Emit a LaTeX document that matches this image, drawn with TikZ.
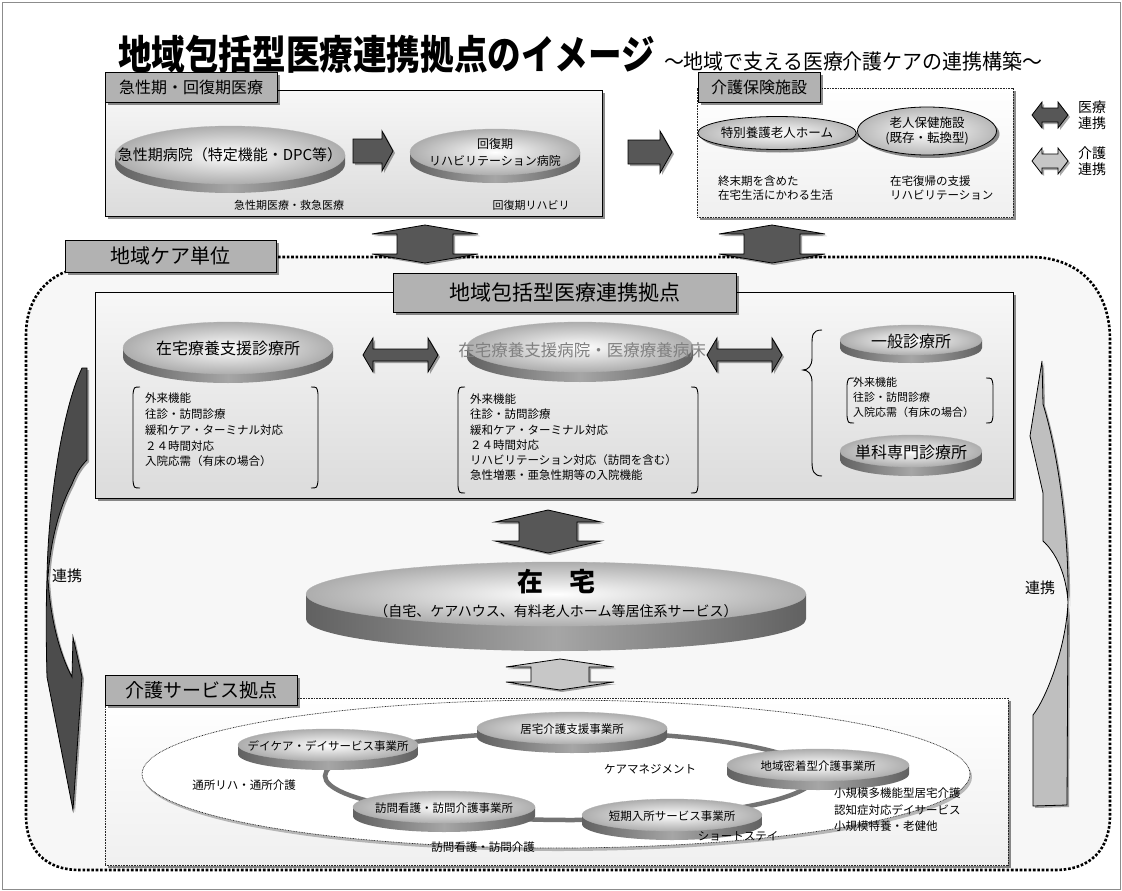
\documentclass[tikz,border=0pt]{standalone}
\usepackage{fontspec}
\usepackage{graphicx}
\setmainfont{Noto Sans CJK JP}
\usetikzlibrary{shadows,shapes.geometric}

\newcommand\fsz[2]{\fontsize{#1}{#2}\selectfont}
\newcommand\xs[2]{\scalebox{#1}[1]{#2}}
% disc: cx, cy, rx, ry, thickness
\newcommand\mydisc[5]{%
  \shade[left color=black!62,right color=black!62,middle color=black!35]
    (#1-#3,#2) -- (#1-#3,#2+#5) arc[start angle=180,end angle=0,x radius=#3,y radius=#4] -- (#1+#3,#2) -- cycle;
  \shadedraw[draw=black!30,line width=0.3pt,inner color=white,outer color=black!32]
    (#1,#2) ellipse[x radius=#3,y radius=#4];}
% horizontal double arrow: style, x1, x2, cy, shaft half, head half, head length
\newcommand\hdarr[7]{%
  \path[#1] (#2,#4) -- (#2+#7,#4-#6) -- (#2+#7,#4-#5) -- (#3-#7,#4-#5) -- (#3-#7,#4-#6) -- (#3,#4)
    -- (#3-#7,#4+#6) -- (#3-#7,#4+#5) -- (#2+#7,#4+#5) -- (#2+#7,#4+#6) -- cycle;}
% vertical double arrow: style, cx, y1, y2, shaft half, head half, head length
\newcommand\vdarr[7]{%
  \path[#1] (#2,#3) -- (#2+#6,#3+#7) -- (#2+#5,#3+#7) -- (#2+#5,#4-#7) -- (#2+#6,#4-#7) -- (#2,#4)
    -- (#2-#6,#4-#7) -- (#2-#5,#4-#7) -- (#2-#5,#3+#7) -- (#2-#6,#3+#7) -- cycle;}
% right arrow: style, xtail, xtip, cy, shaft half, head half, head length
\newcommand\rarr[7]{%
  \path[#1] (#2,#4-#5) -- (#3-#7,#4-#5) -- (#3-#7,#4-#6) -- (#3,#4) -- (#3-#7,#4+#6) -- (#3-#7,#4+#5) -- (#2,#4+#5) -- cycle;}
% brackets: x, y1, y2
\newcommand\lbrk[3]{\draw[line width=0.9pt] (#1+7,#2) .. controls (#1+1,#2) .. (#1,#2+7) -- (#1,#3-7) .. controls (#1+1,#3) .. (#1+7,#3);}
\newcommand\rbrk[3]{\draw[line width=0.9pt] (#1-7,#2) .. controls (#1-1,#2) .. (#1,#2+7) -- (#1,#3-7) .. controls (#1-1,#3) .. (#1-7,#3);}

\begin{document}
\begin{tikzpicture}[x=1pt,y=-1pt,
  every node/.style={inner sep=0pt,outer sep=0pt},
  shad/.style={drop shadow={shadow xshift=3pt,shadow yshift=-3pt,fill=black,opacity=0.45}},
  tabbox/.style={draw=black,line width=0.9pt,fill=black!30,shad,anchor=north west},
  solidbox/.style={draw=black,line width=1pt,top color=black!3,bottom color=black!14,shad,anchor=north west},
  dotbox/.style={draw=black!85,line width=0.7pt,dash pattern=on 0.8pt off 0.8pt,top color=white,bottom color=black!6,shad,anchor=north west},
  darrow/.style={draw=black,line width=0.8pt,fill=black!66,drop shadow={shadow xshift=2pt,shadow yshift=-2pt,fill=black,opacity=0.35}},
  larrow/.style={draw=black,line width=0.8pt,fill=black!22,drop shadow={shadow xshift=2pt,shadow yshift=-2pt,fill=black,opacity=0.35}},
  region/.style={draw=black,line width=2.6pt,dash pattern=on 2.6pt off 1.8pt},
  ring/.style={draw=black!55,line width=4.5pt},
  lst/.style={align=left,anchor=north west},
  oval/.style={ellipse,draw=black,line width=0.8pt,inner color=white,outer color=black!28,shad}
]
\useasboundingbox (0,0) rectangle (1122,891);
\fill[white] (0,0) rectangle (1122,891);
\draw[black!45,line width=0.8pt] (2,2) rectangle (1120,889);

% title
\node[anchor=base west,font=\fsz{40}{40}\bfseries] (title) at (118,70) {\xs{0.84}{地域包括型医療連携拠点のイメージ}};
\node[anchor=base west,font=\fsz{21}{21}] (subtitle) at (664,70) {\xs{0.95}{～地域で支える医療介護ケアの連携構築～}};

% regional care unit (dotted rounded area)
\path[fill=black!3] (278,257) -- (1030,257) .. controls (1080,257) and (1110,290) .. (1110,340) -- (1110,815)
  .. controls (1110,850) and (1090,870) .. (1055,870) -- (80,870) .. controls (45,870) and (26,850) .. (26,815)
  -- (26,335) .. controls (26,300) and (45,280) .. (65,272) -- (65,257) -- cycle;
\draw[region] (278,257) -- (1030,257) .. controls (1080,257) and (1110,290) .. (1110,340) -- (1110,815)
  .. controls (1110,850) and (1090,870) .. (1055,870) -- (80,870) .. controls (45,870) and (26,850) .. (26,815)
  -- (26,335) .. controls (26,300) and (45,280) .. (65,272);

% ---------- top left box
\node[solidbox,minimum width=497,minimum height=126] (acute) at (105,90) {};
\node[tabbox,minimum width=172,minimum height=30,font=\fsz{16}{16}] (acuteTab) at (105,72) {急性期・回復期医療};
\mydisc{230}{155}{115}{29}{9}
\node[font=\fsz{15}{15}] (acuteHosp) at (230,155) {急性期病院（特定機能・DPC等）};
\mydisc{495}{152}{85}{23}{8}
\node[font=\fsz{12}{17},align=center] (rehabHosp) at (495,152) {回復期\\リハビリテーション病院};
\rarr{darrow}{353}{393}{151}{12}{20}{11}
\node[font=\fsz{11}{11}] (acuteLbl) at (289,205) {急性期医療・救急医療};
\node[font=\fsz{11}{11}] (rehabLbl) at (531,205) {回復期リハビリ};

% arrow between top boxes
\rarr{darrow}{628}{672}{152}{12}{21}{12}

% ---------- top right box
\node[dotbox,minimum width=316,minimum height=129] (care) at (697,88) {};
\node[tabbox,minimum width=122,minimum height=30,font=\fsz{16}{16}] (careTab) at (698,72) {介護保険施設};
\node[oval,minimum width=140,minimum height=33,font=\fsz{12.5}{12.5}] (tokuyo) at (777,133) {特別養護老人ホーム};
\node[oval,minimum width=139,minimum height=48,font=\fsz{12.5}{15},align=center] (roken) at (927,131) {老人保健施設\\(既存・転換型)};
\node[lst,font=\fsz{11.5}{13.5}] (tokuyoTxt) at (718,176) {終末期を含めた\\在宅生活にかわる生活};
\node[lst,font=\fsz{11.5}{13.5}] (rokenTxt) at (890,176) {在宅復帰の支援\\リハビリテーション};

% legend
\hdarr{darrow}{1032}{1068}{115}{7}{13}{10}
\node[font=\fsz{14}{16},align=left,anchor=west] (legMed) at (1078,115) {医療\\連携};
\hdarr{larrow}{1032}{1068}{161}{7}{13}{10}
\node[font=\fsz{14}{16},align=left,anchor=west] (legCare) at (1078,161) {介護\\連携};

% up-down arrows to hub
\vdarr{darrow}{425}{225}{263}{28}{53}{9}
\vdarr{darrow}{772}{225}{263}{28}{53}{9}

\node[tabbox,minimum width=211,minimum height=32,font=\fsz{20}{20}] (areaTab) at (65,240) {地域ケア単位};

% curved side arrows
\path[darrow,fill=black!70] (82,368) -- (87,368) -- (87,460) .. controls (80,467) and (76,474) .. (72,484)
  .. controls (58,510) and (50,545) .. (48,578) .. controls (50,618) and (60,655) .. (72,677)
  -- (73,637) -- (82,677) -- (73,810) -- (47,677) .. controls (46,640) and (46,605) .. (47,578)
  .. controls (48,505) and (62,410) .. (82,368) -- cycle;
\node[font=\fsz{15}{15}] (linkL) at (67,576) {連携};
\path[larrow,fill=black!25] (1042,361) -- (1043,404) .. controls (1060,460) and (1069,540) .. (1068,602)
  -- (1067,805) -- (1033,806) -- (1033,715) .. controls (1045,700) and (1066,650) .. (1068,602)
  .. controls (1066,572) and (1055,552) .. (1043,541) -- (1043,493) -- (1030,436) -- cycle;
\node[font=\fsz{15}{15}] (linkR) at (1040,588) {連携};

% ---------- hub box
\node[solidbox,minimum width=918,minimum height=206] (hub) at (95,292) {};
\node[tabbox,minimum width=343,minimum height=39,font=\fsz{21}{21}] (hubTab) at (393,273) {地域包括型医療連携拠点};

\mydisc{228}{348}{105}{26}{9}
\node[font=\fsz{16}{16}] (zClinic) at (228,348) {在宅療養支援診療所};
\mydisc{580}{347}{113}{25}{10}
\node[font=\fsz{16.5}{16.5},text=black!50] (zHosp) at (582,350) {在宅療養支援病院・医療療養病床};
\mydisc{911}{340}{71}{15}{8}
\node[font=\fsz{16}{16}] (genClinic) at (911,341) {一般診療所};
\mydisc{911}{451}{71}{16}{9}
\node[font=\fsz{16}{16}] (specClinic) at (911,452) {単科専門診療所};

\hdarr{darrow}{363}{438}{355}{6}{17}{10}
\hdarr{darrow}{707}{782}{355}{6}{17}{10}

\lbrk{133}{387}{488}\rbrk{318}{387}{488}
\node[lst,font=\fsz{11.5}{15.8}] (zClinicList) at (145,393) {外来機能\\往診・訪問診療\\緩和ケア・ターミナル対応\\２４時間対応\\入院応需（有床の場合）};
\lbrk{458}{387}{493}\rbrk{698}{387}{493}
\node[lst,font=\fsz{11.5}{15.2}] (zHospList) at (470,394) {外来機能\\往診・訪問診療\\緩和ケア・ターミナル対応\\２４時間対応\\リハビリテーション対応（訪問を含む）\\急性増悪・亜急性期等の入院機能};
\lbrk{847}{378}{423}\rbrk{993}{378}{423}
\node[lst,font=\fsz{11}{15}] (genList) at (853,377) {外来機能\\往診・訪問診療\\入院応需（有床の場合）};
\draw[line width=0.9pt] (822,330) .. controls (812,330) and (812,336) .. (812,345) -- (812,358)
  .. controls (812,366) and (808,370) .. (803,370) .. controls (808,370) and (812,374) .. (812,382)
  -- (812,462) .. controls (812,471) and (814,476) .. (822,476);

% hub <-> home
\vdarr{darrow}{548}{510}{553}{29}{53}{12}

% ---------- home
\mydisc{556}{594}{250}{32}{25}
\node[font=\fsz{26}{26}\bfseries] (home) at (556,582) {在　宅};
\node[font=\fsz{14}{14}] (homeSub) at (556,611) {（自宅、ケアハウス、有料老人ホーム等居住系サービス）};

\vdarr{larrow}{560}{659}{690}{29}{54}{8}

% ---------- care services
\node[dotbox,minimum width=903,minimum height=167] (kaigo) at (105,698) {};
\node[tabbox,minimum width=192,minimum height=30,font=\fsz{19}{19}] (kaigoTab) at (105,675) {介護サービス拠点};
\node[ellipse,draw=black!85,dash pattern=on 0.8pt off 0.8pt,line width=0.7pt,fill=white,minimum width=828,minimum height=148,
  drop shadow={shadow xshift=2pt,shadow yshift=-3pt,fill=black,opacity=0.25}] (kaigoRing) at (556,774) {};
\draw[ring] (570,776) ellipse[x radius=245,y radius=44];

\mydisc{328}{745}{90}{16}{9}
\node[font=\fsz{11.5}{11.5}] (dayCare) at (328,746) {デイケア・デイサービス事業所};
\mydisc{572}{728}{95}{16}{9}
\node[font=\fsz{11.5}{11.5}] (careMgmt) at (572,729) {居宅介護支援事業所};
\mydisc{818}{765}{91}{16}{9}
\node[font=\fsz{11.5}{11.5}] (community) at (818,766) {地域密着型介護事業所};
\mydisc{672}{815}{90}{16}{9}
\node[font=\fsz{11.5}{11.5}] (shortStay) at (672,816) {短期入所サービス事業所};
\mydisc{444}{807}{91}{16}{9}
\node[font=\fsz{11.5}{11.5}] (visitNurse) at (444,808) {訪問看護・訪問介護事業所};

\node[font=\fsz{11.5}{11.5}] (dayCareLbl) at (244,785) {通所リハ・通所介護};
\node[font=\fsz{11.5}{11.5}] (visitLbl) at (483,847) {訪問看護・訪問介護};
\node[font=\fsz{11.5}{11.5}] (mgmtLbl) at (650,769) {ケアマネジメント};
\node[font=\fsz{11.5}{11.5}] (shortLbl) at (738,836) {ショートステイ};
\node[lst,font=\fsz{11.5}{16.5}] (communityLbl) at (834,788) {小規模多機能型居宅介護\\認知症対応デイサービス\\小規模特養・老健他};
\end{tikzpicture}
\end{document}
